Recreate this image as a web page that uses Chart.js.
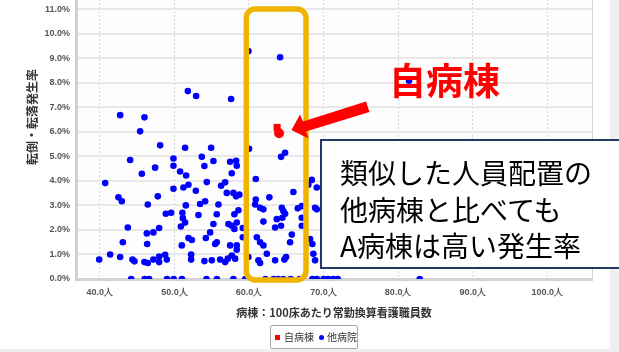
<!DOCTYPE html>
<html><head><meta charset="utf-8">
<script src="https://cdn.jsdelivr.net/npm/chart.js@4.4.1/dist/chart.umd.min.js"></script>
<style>
html,body{margin:0;padding:0;}
body{width:619px;height:352px;overflow:hidden;position:relative;background:#efefef;font-family:"Noto Sans CJK JP","Noto Sans",sans-serif;}
#panel{position:absolute;left:0;top:0;width:610px;height:349px;background:#fff;overflow:hidden;}
#wrap{position:absolute;left:0;top:-50px;width:610px;height:399px;}
#ov{position:absolute;left:0;top:0;width:619px;height:352px;pointer-events:none;}
#own{position:absolute;left:389px;top:61px;font-size:37px;line-height:37px;color:#ff0000;font-weight:bold;white-space:nowrap;}
#box{position:absolute;left:320px;top:139px;width:420px;height:126px;border:2px solid #1f3864;background:#fff;}
#boxtext{position:absolute;left:340px;top:154px;font-size:28px;line-height:36.5px;color:#000;white-space:nowrap;}
#legend{position:absolute;left:270px;top:325px;width:86px;height:22px;border:1px solid #a8a8a8;border-radius:2px;background:#fff;font-size:10px;color:#333;}
.sw{position:absolute;width:5px;height:5px;top:9px;}
.lt{position:absolute;top:4px;line-height:14px;white-space:nowrap;}
</style></head>
<body>
<div id="panel"><div id="wrap"><canvas id="c" width="610" height="399"></canvas></div></div>
<svg id="ov" viewBox="0 0 619 352">
  <rect x="246.3" y="9" width="59.7" height="271" rx="9" ry="9" fill="none" stroke="#F0B400" stroke-width="5.5"/>
  <polygon points="366,101.5 303,121.5 300,114.5 291.5,130 308.5,138.5 306,131.5 369.5,112" fill="#ff0000"/>
</svg>
<div id="own">自病棟</div>
<div id="box"></div>
<div id="boxtext">類似した人員配置の<br>他病棟と比べても<br>A病棟は高い発生率</div>
<div id="legend">
  <div class="sw" style="left:4px;background:#ff0000;"></div><div class="lt" style="left:13px;">自病棟</div>
  <div class="sw" style="left:48px;background:#0000ff;border-radius:50%;"></div><div class="lt" style="left:56px;">他病院</div>
</div>
<script>
// 自病棟 (own ward)
const ownX = [63.77, 64.03];
const ownY = [6.18, 5.94];
// 他病院 (other hospitals' wards)
const otherX = [42.72,45.98,45.40,48.08,51.43,54.92,51.80,52.91,57.60,59.92,64.17,60.01,64.84,64.30,81.46,89.95,
44.06,49.87,49.87,53.67,54.02,47.41,45.63,50.76,51.57,40.71,54.34,49.87,51.21,51.88,52.87,42.49,42.95,47.77,46.43,51.53,53.44,54.12,48.85,49.56,51.07,53.22,
51.13,51.43,43.75,46.30,47.18,47.95,50.86,43.08,46.34,50.99,51.88,52.33,54.21,39.91,41.38,42.72,44.37,44.64,45.98,46.43,47.18,47.95,47.95,48.75,48.98,52.24,52.24,54.02,
55.23,57.47,58.27,58.36,57.69,56.26,56.80,60.91,57.02,57.91,58.27,58.71,65.95,62.73,55.90,60.91,60.82,61.49,61.93,64.40,64.61,66.54,67.08,68.86,55.68,58.58,58.04,64.84,67.96,69.09,68.42,
55.23,54.79,57.24,57.69,58.36,58.04,55.68,55.46,57.47,58.36,58.36,61.93,61.05,61.49,61.93,62.39,63.73,63.50,64.30,64.48,65.74,65.51,67.08,67.08,63.50,64.75,61.26,61.49,55.01,56.13,56.80,57.16,57.69,58.14,68.50,68.86,64.97,68.19,68.63,59.17,59.17,59.92,69.09,
44.2,46.0,46.6,49.0,49.9,51.0,54.3,55.7,57.9,59.5,62.2,63.3,63.9,64.6,65.6,66.8,68.5,69.1,70.0,70.6,71.3,71.9,82.9];
const otherY = [6.68,6.59,6.02,5.45,5.35,5.35,7.66,7.46,7.34,9.29,9.04,5.31,5.15,4.98,8.08,5.58,
4.85,4.91,4.62,4.98,4.61,4.54,4.29,4.38,4.22,3.91,3.95,3.68,3.73,3.84,3.60,3.33,3.17,3.37,3.04,3.00,3.06,3.17,2.66,2.70,2.70,2.61,
2.48,2.30,2.10,1.86,1.90,2.08,2.14,1.50,1.43,1.37,1.67,1.59,1.67,0.79,1.00,0.90,0.79,0.72,0.69,0.65,0.79,0.92,0.69,0.99,0.79,1.00,0.79,0.73,
4.81,4.78,4.82,4.62,4.31,3.80,3.94,4.08,3.51,3.51,3.37,3.44,3.55,3.33,3.04,3.24,3.04,2.90,2.84,2.90,2.77,2.88,2.97,2.90,2.64,2.80,2.64,2.66,3.84,3.73,4.04,
2.24,1.90,2.24,2.17,2.30,2.04,1.50,1.43,1.37,1.37,1.19,2.34,1.70,1.50,1.37,1.03,2.44,2.10,2.17,2.50,1.81,1.50,2.50,2.17,0.76,0.79,0.76,0.65,0.76,0.79,0.69,0.83,0.96,0.83,1.43,0.76,0.90,1.63,1.03,1.70,2.08,0.90,2.84,
0,0,0,0,0,0,0,0,0,0,0,0,0,0,0,0,0,0,0,0,0,0,0];
// tick values
const xTickValues = [40,50,60,70,80,90,100];
const yTickValues = [0,1,2,3,4,5,6,7,8,9,10,11,12,13];
const xTitle = '病棟：100床あたり常勤換算看護職員数';
const yTitle = '転倒・転落発生率';

const toPts = (xs, ys) => xs.map((x, i) => ({x: x, y: ys[i]}));

const areaPlugin = {
  id: 'areaBg',
  beforeDraw(chart) {
    const {ctx, chartArea: a} = chart;
    ctx.save();
    ctx.fillStyle = '#fdfdfd';
    ctx.fillRect(a.left, a.top, a.right - a.left, a.bottom - a.top);
    ctx.restore();
  },
  afterDraw(chart) {
    const {ctx, chartArea: a} = chart;
    ctx.save();
    ctx.strokeStyle = '#d4d4d4';
    ctx.lineWidth = 1;
    ctx.beginPath();
    ctx.moveTo(a.right + 0.5, a.top);
    ctx.lineTo(a.right + 0.5, a.bottom);
    ctx.stroke();
    ctx.restore();
  }
};

const tickFont = {family: "'Liberation Sans', Arial, sans-serif", size: 9, weight: 'bold'};
const cjk = "'Noto Sans CJK JP', sans-serif";

new Chart(document.getElementById('c'), {
  type: 'scatter',
  data: {
    datasets: [
      {label: '自病棟', data: toPts(ownX, ownY), showLine: false,
       pointStyle: ['rect', 'circle'], pointRadius: [5, 5],
       pointBackgroundColor: '#ff0000', pointBorderWidth: 0, pointBorderColor: '#ff0000', clip: 0},
      {label: '他病院', data: toPts(otherX, otherY), showLine: false,
       pointStyle: 'circle', pointRadius: 3.3,
       pointBackgroundColor: '#0000ff', pointBorderWidth: 0, pointBorderColor: '#0000ff', clip: 0}
    ]
  },
  plugins: [areaPlugin],
  options: {
    responsive: false,
    animation: false,
    devicePixelRatio: 1,
    events: [],
    layout: {padding: {left: 0, right: 18, top: 0, bottom: 30}},
    plugins: {legend: {display: false}, tooltip: {enabled: false}, title: {display: false}},
    scales: {
      x: {
        type: 'linear', position: 'bottom', min: 36.8, max: 106.0,
        afterBuildTicks: s => { s.ticks = xTickValues.map(v => ({value: v})); },
        afterFit: s => { s.height = 40; s.paddingLeft = 0; s.paddingRight = 0; },
        grid: {color: '#d6d6d6', lineWidth: 1, drawTicks: false},
        border: {display: true, color: '#d2d2d2', width: 3, dash: [2, 2]},
        ticks: {font: tickFont, color: '#555', padding: 8, maxRotation: 0,
                callback: v => Number(v).toFixed(1) + '人'},
        title: {display: true, text: xTitle, color: '#333',
                font: {family: cjk, size: 11, weight: 'bold'}, padding: {top: 0, bottom: 0}}
      },
      y: {
        type: 'linear', position: 'left', min: 0, max: 13.21,
        afterBuildTicks: s => { s.ticks = yTickValues.map(v => ({value: v})); },
        afterFit: s => { s.width = 76; s.paddingTop = 0; s.paddingBottom = 0; },
        grid: {color: '#e8e8e8', lineWidth: 2, drawTicks: false},
        border: {display: true, color: '#d2d2d2', width: 3},
        ticks: {font: tickFont, color: '#555', padding: 6,
                callback: v => Number(v).toFixed(1) + '%'},
        title: {display: true, text: yTitle, color: '#333',
                font: {family: cjk, size: 12, weight: 'bold'}, padding: {top: 25, bottom: 0}}
      }
    }
  }
});
</script>
</body></html>
